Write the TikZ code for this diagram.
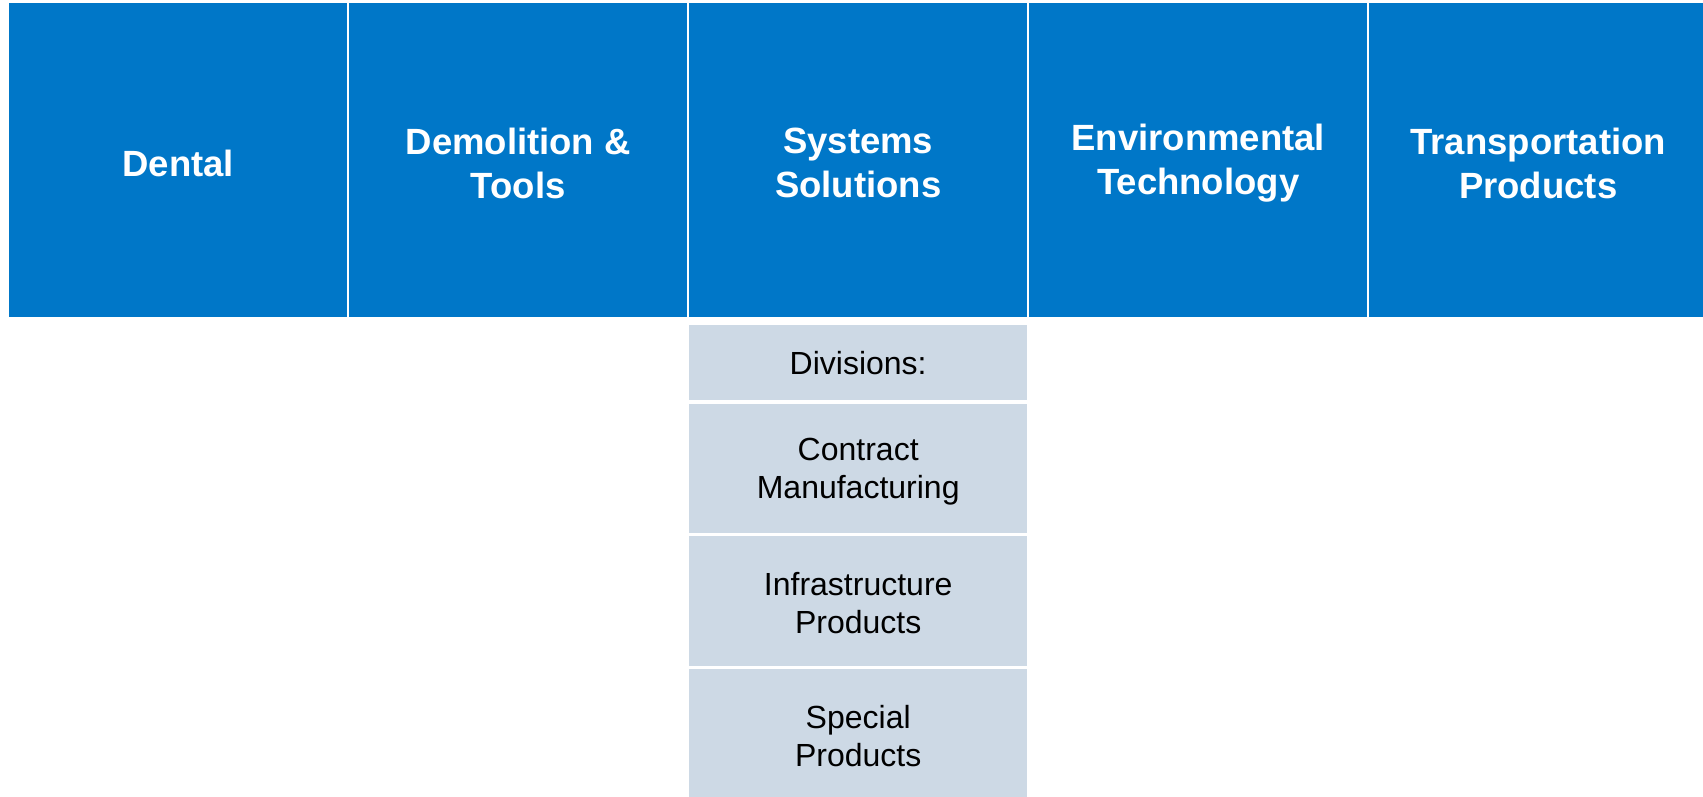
\documentclass[tikz,border=0pt]{standalone}
\usepackage{fontspec}
\setmainfont{Liberation Sans}
\definecolor{topblue}{RGB}{0,119,200}
\definecolor{divgray}{RGB}{205,217,229}
\begin{document}
\begin{tikzpicture}[x=1pt,y=-1pt,
  seg/.style={fill=topblue, minimum width=338pt, minimum height=314pt, inner sep=0pt, anchor=north west},
  segtext/.style={text=white, font=\fontsize{36.5}{44}\selectfont\bfseries, align=center, inner sep=0pt},
  divbox/.style={fill=divgray, minimum width=338pt, inner sep=0pt, anchor=north west},
  divtext/.style={text=black, font=\fontsize{32}{38.5}\selectfont, align=center, inner sep=0pt}]
\useasboundingbox (0,0) rectangle (1703,796);
\clip (0,0) rectangle (1703,796);
\node[seg] (dental) at (9,3) {};
\node[seg] (demo) at (349,3) {};
\node[seg] (sys) at (689,3) {};
\node[seg] (env) at (1029,3) {};
\node[seg] (trans) at (1369,3) {};
\node[segtext] (dentalT) at ([yshift=-3pt]dental.center) {Dental};
\node[segtext] (demoT) at ([yshift=-3pt]demo.center) {Demolition \&\\Tools};
\node[segtext] (sysT) at ([yshift=-3pt]sys.center) {Systems\\Solutions};
\node[segtext] (envT) at ([yshift=-3pt]env.center) {Environmental\\Technology};
\node[segtext] (transT) at ([yshift=-3pt]trans.center) {Transportation\\Products};
\node[divbox, minimum height=75pt] (divs) at (689,325) {};
\node[divbox, minimum height=129pt] (contract) at (689,404) {};
\node[divbox, minimum height=130pt] (infra) at (689,536) {};
\node[divbox, minimum height=130pt] (special) at (689,669) {};
\node[divtext] (divsT) at (divs.center) {Divisions:};
\node[divtext] (contractT) at ([yshift=-3pt]contract.center) {Contract\\Manufacturing};
\node[divtext] (infraT) at ([yshift=-2pt]infra.center) {Infrastructure\\Products};
\node[divtext] (specialT) at ([yshift=-2pt]special.center) {Special\\Products};
\end{tikzpicture}
\end{document}
